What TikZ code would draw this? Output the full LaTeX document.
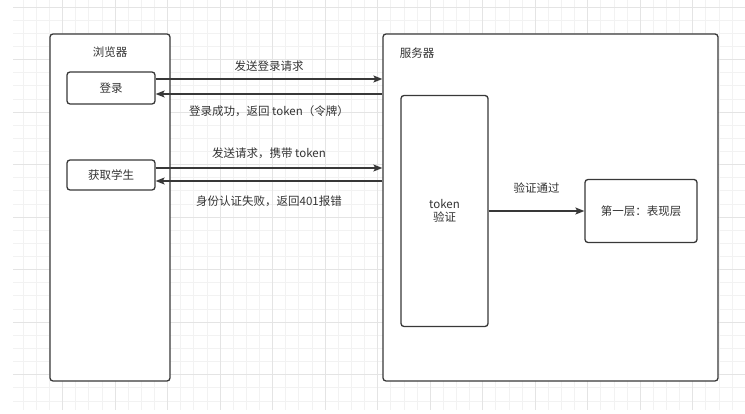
\documentclass[tikz,border=0pt]{standalone}
\usepackage{fontspec}
\newfontfamily\cjk{Noto Sans CJK SC}
\usetikzlibrary{positioning,arrows.meta}
\definecolor{linegray}{HTML}{383838}
\definecolor{textgray}{HTML}{333333}
\definecolor{gridminor}{HTML}{F2F2F2}
\definecolor{gridmajor}{HTML}{E4E4E4}

\begin{document}
\begin{tikzpicture}[x=1pt, y=-1pt,
	box/.style={draw=linegray, line width=1.3pt, rounded corners=3pt, fill=white, inner sep=0pt},
	txt/.style={font=\cjk\fontsize{11.5}{13}\selectfont, text=textgray},
	arr/.style={-{Stealth[length=9pt, width=7pt, inset=2pt]}, draw=linegray, line width=1.3pt}]
	\useasboundingbox (0,0) rectangle (745,414);

	% grid
	\begin{scope}
		\clip (13,0) rectangle (745,410);
		\foreach \k in {0,...,56} \draw[gridminor, line width=0.8pt] (10+\k*13.13,0) -- (10+\k*13.13,410);
		\foreach \k in {0,...,31} \draw[gridminor, line width=0.8pt] (13,7+\k*13.13) -- (745,7+\k*13.13);
		\foreach \k in {0,4,...,56} \draw[gridmajor, line width=0.8pt] (10+\k*13.13,0) -- (10+\k*13.13,410);
		\foreach \k in {0,4,...,31} \draw[gridmajor, line width=0.8pt] (13,7+\k*13.13) -- (745,7+\k*13.13);
	\end{scope}

	% containers
	\node[box, minimum width=120pt, minimum height=347pt] (browser) at (110,207.5) {};
	\node[box, minimum width=335pt, minimum height=347pt] (server) at (550.5,207.5) {};
	\node[txt, below=10pt of browser.north] (browsertitle) {浏览器};
	\node[txt, anchor=west] (servertitle) at ([xshift=14pt, yshift=-20pt]server.north west) {服务器};

	% boxes
	\node[box, txt, minimum width=88pt, minimum height=32pt] (login) at (111,88) {登录};
	\node[box, txt, minimum width=88pt, minimum height=30pt] (getstu) at (111,175) {获取学生};
	\node[box, txt, align=center, minimum width=87pt, minimum height=231pt] (token) at (444.5,211) {token\\验证};
	\node[box, txt, minimum width=112pt, minimum height=63pt] (layer) at (641,211) {第一层：表现层};

	% requests
	\draw[arr] ([yshift=9pt]login.east) -- ([yshift=9pt]login.east -| server.west)
		node[midway, above=4pt, txt] {发送登录请求};
	\draw[arr] ([yshift=-6pt]login.east -| server.west) -- ([yshift=-6pt]login.east)
		node[midway, below=8pt, txt] {登录成功，返回 token（令牌）};
	\draw[arr] ([yshift=7pt]getstu.east) -- ([yshift=7pt]getstu.east -| server.west)
		node[midway, above=5pt, txt] {发送请求，携带 token};
	\draw[arr] ([yshift=-6pt]getstu.east -| server.west) -- ([yshift=-6pt]getstu.east)
		node[midway, below=11pt, txt] {身份认证失败，返回401报错};
	\draw[arr] (token) -- (layer) node[midway, above=14pt, txt] {验证通过};
\end{tikzpicture}
\end{document}
